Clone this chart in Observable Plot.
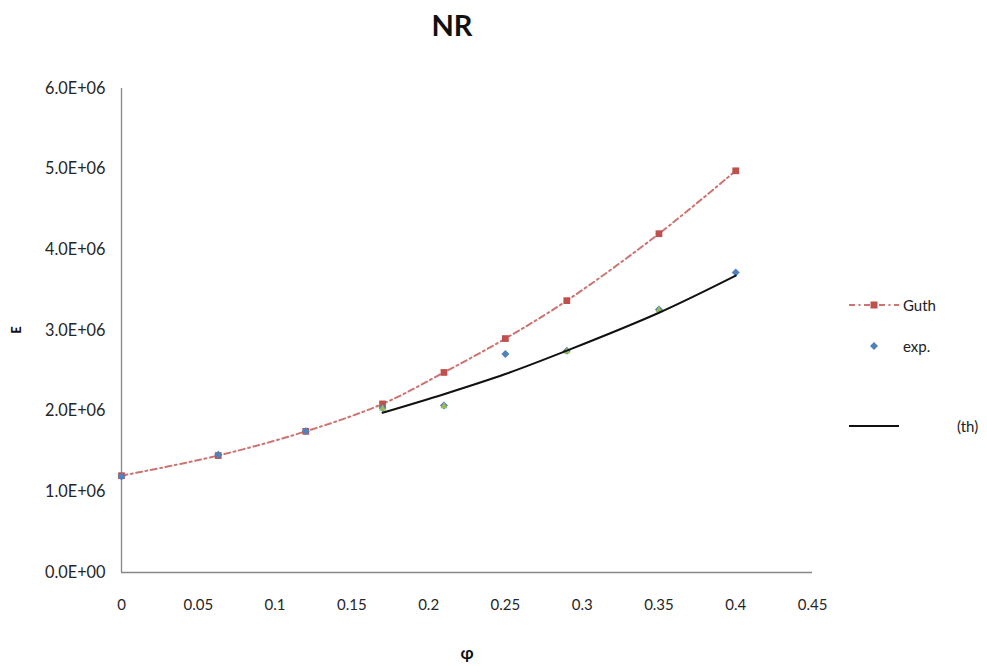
<!DOCTYPE html>
<html><head><meta charset="utf-8">
<script src="https://cdn.jsdelivr.net/npm/d3@7"></script>
<script src="https://cdn.jsdelivr.net/npm/@observablehq/plot@0.6"></script>
<style>
body{margin:0;background:#fff;}
#wrap{position:relative;width:987px;height:666px;font-family:Lato,"Open Sans",sans-serif;color:#333;}
#wrap svg.plot{position:absolute;left:0;top:0;}
#wrap svg.plot text{fill:#262626;}
.title{position:absolute;left:452px;top:24px;transform:translate(-50%,-50%);font-weight:bold;font-size:29px;color:#111;white-space:nowrap;}
.xlab{position:absolute;left:467px;top:652px;transform:translate(-50%,-50%);font-weight:bold;font-size:17px;color:#111;}
.ylab{position:absolute;left:16px;top:330px;transform:translate(-50%,-50%) rotate(-90deg);font-weight:900;font-size:13px;color:#111;}
.leg{position:absolute;font-size:15px;color:#222;transform:translateY(-50%);white-space:nowrap;}
.legsvg{position:absolute;overflow:visible;}
</style></head><body><div id="wrap"></div>
<script>
const phi = [0, 0.063, 0.12, 0.17, 0.21, 0.25, 0.29, 0.35, 0.40];
const guthE = [1.20e6, 1.45e6, 1.75e6, 2.09e6, 2.48e6, 2.90e6, 3.37e6, 4.20e6, 4.98e6];
const expE = [1.19e6, 1.46e6, 1.75e6, 2.04e6, 2.07e6, 2.71e6, 2.75e6, 3.26e6, 3.72e6];
const greenPhi = [0.17, 0.21, 0.29, 0.35];
const greenE = [2.04e6, 2.07e6, 2.75e6, 3.26e6];
const thPhi = [0.17, 0.21, 0.25, 0.29, 0.35, 0.40];
const thE = [1.98e6, 2.21e6, 2.46e6, 2.75e6, 3.22e6, 3.68e6];
const xTicks = [0, 0.05, 0.1, 0.15, 0.2, 0.25, 0.3, 0.35, 0.4, 0.45];
const yTicks = [0, 1e6, 2e6, 3e6, 4e6, 5e6, 6e6];
const seriesNames = ["Guth", "exp.", "(th)"];

const RED = "#C0504D", BLUE = "#4F81BD", GREEN = "#9BBB59";
const guth = phi.map((x, i) => ({x, y: guthE[i]}));
const exp = phi.map((x, i) => ({x, y: expE[i]}));
const green = greenPhi.map((x, i) => ({x, y: greenE[i]}));
const th = thPhi.map((x, i) => ({x, y: thE[i]}));

const diamond = {draw(ctx, size) { const h = Math.sqrt(size / Math.PI); ctx.moveTo(0, -h); ctx.lineTo(h, 0); ctx.lineTo(0, h); ctx.lineTo(-h, 0); ctx.closePath(); }};
const triangle = {draw(ctx, size) { const h = Math.sqrt(size / Math.PI); ctx.moveTo(0, -h); ctx.lineTo(h, h * 0.8); ctx.lineTo(-h, h * 0.8); ctx.closePath(); }};

function sci(d) {
  if (d === 0) return "0.0E+00";
  const e = Math.floor(Math.log10(d));
  const m = d / Math.pow(10, e);
  return m.toFixed(1) + "E+" + String(e).padStart(2, "0");
}

const chart = Plot.plot({
  width: 987, height: 666,
  marginLeft: 121, marginRight: 175, marginTop: 88, marginBottom: 94,
  style: {fontFamily: "Lato, 'Open Sans', sans-serif", fontSize: "15px", color: "#262626", background: "transparent"},
  x: {domain: [0, 0.45]},
  y: {domain: [0, 6e6]},
  marks: [
    Plot.axisY({ticks: yTicks, tickSize: 0, tickPadding: 16, tickFormat: sci, label: null, fontSize: 16.3}),
    Plot.axisX({ticks: xTicks, tickSize: 0, tickPadding: 27, tickFormat: d => String(+d.toFixed(2)), label: null, fontSize: 15}),
    Plot.ruleX([0], {stroke: "#878787", strokeWidth: 1.3}),
    Plot.ruleY([0], {stroke: "#878787", strokeWidth: 1.3}),
    Plot.line(guth, {x: "x", y: "y", curve: "catmull-rom", stroke: RED, strokeOpacity: 0.8, strokeWidth: 2, strokeDasharray: "6,3.5,2,3.5"}),
    Plot.dot(guth, {x: "x", y: "y", symbol: "square", r: 3.8, fill: RED, stroke: "none"}),
    Plot.dot(exp, {x: "x", y: "y", symbol: diamond, r: 4, fill: BLUE, stroke: "none"}),
    Plot.dot(green, {x: "x", y: "y", symbol: triangle, r: 3.5, fill: GREEN, stroke: "none"}),
    Plot.line(th, {x: "x", y: "y", curve: "catmull-rom", stroke: "#111", strokeWidth: 2})
  ]
});
chart.classList.add("plot");
const wrap = document.getElementById("wrap");
wrap.appendChild(chart);

function add(html) { wrap.insertAdjacentHTML("beforeend", html); }
add(`<div class="title">NR</div>`);
add(`<div class="xlab">φ</div>`);
add(`<div class="ylab">E</div>`);
// legend
add(`<svg class="legsvg" style="left:0;top:0" width="987" height="666">
  <line x1="849" x2="899" y1="305" y2="305" stroke="${RED}" stroke-opacity="0.8" stroke-width="2" stroke-dasharray="6,3.5,2,3.5"/>
  <rect x="870.5" y="301.5" width="7" height="7" fill="${RED}"/>
  <path d="M874,342 L878,346 L874,350 L870,346 Z" fill="${BLUE}"/>
  <line x1="849" x2="899" y1="426" y2="426" stroke="#111" stroke-width="2"/>
</svg>`);
add(`<div class="leg" style="left:903px;top:305px">${seriesNames[0]}</div>`);
add(`<div class="leg" style="left:903px;top:346px">${seriesNames[1]}</div>`);
add(`<div class="leg" style="left:957px;top:426px">${seriesNames[2]}</div>`);
</script></body></html>
